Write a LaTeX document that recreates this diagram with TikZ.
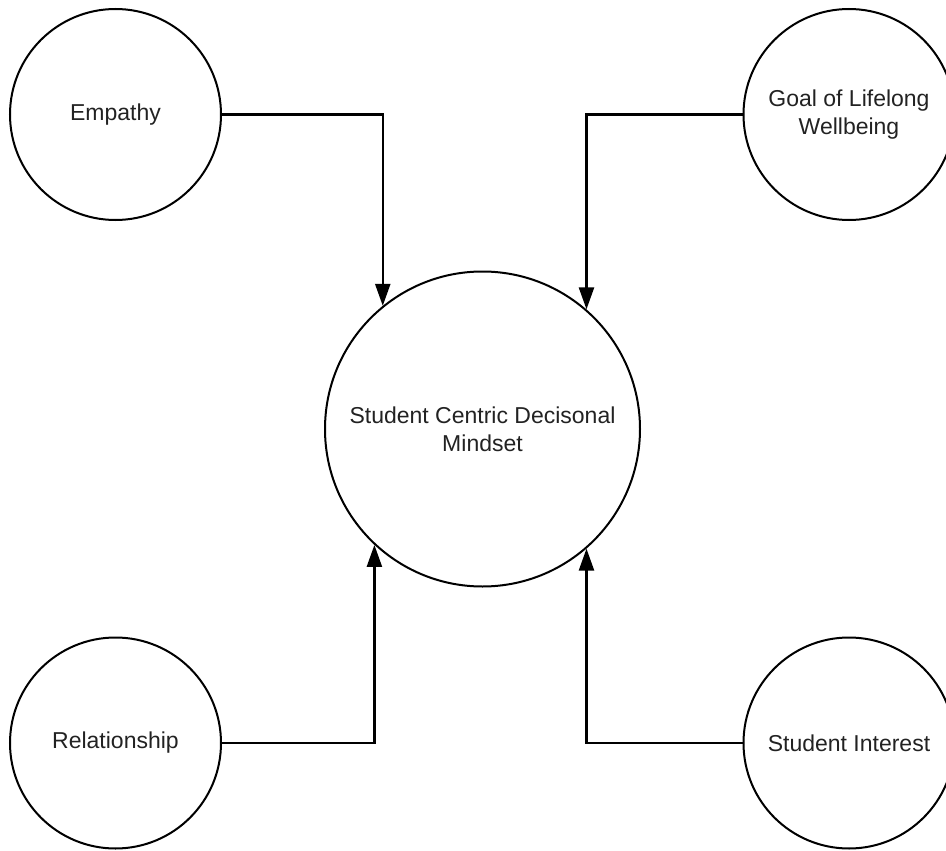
\documentclass[tikz,border=0pt]{standalone}
\usepackage{fontspec}
\setmainfont{Liberation Sans}
\usetikzlibrary{arrows.meta}
\definecolor{txt}{HTML}{222222}
\tikzset{
  bubble/.style={circle, draw=black, line width=2pt, inner sep=0pt, minimum size=211pt,
    align=center, text=txt, font=\fontsize{23}{28}\selectfont},
  bigbubble/.style={bubble, minimum size=315pt},
  link/.style={draw=black, line width=2.4pt, -{Triangle[length=22pt,width=15pt]}}
}
\begin{document}
\begin{tikzpicture}[x=1pt,y=-1pt]
\useasboundingbox (0,0) rectangle (946,851);
\clip (0,0) rectangle (946,851);
\node[bigbubble] (c) at (482.5,429) {Student Centric Decisonal\\Mindset};
\node[bubble] (emp) at (115.5,114.5) {Empathy};
\node[bubble] (goal) at (849,114.5) {Goal of Lifelong\\Wellbeing};
\node[bubble] (rel) at (115.5,743) {Relationship};
\node[bubble] (int) at (849,743) {Student Interest};
\draw[link] (emp.east) -| (c.129.3);
\draw[link] (goal.west) -| (c.49.4);
\draw[link] (rel.east) -| (c.227.2);
\draw[link] (int.west) -| (c.311.7);
\end{tikzpicture}
\end{document}
